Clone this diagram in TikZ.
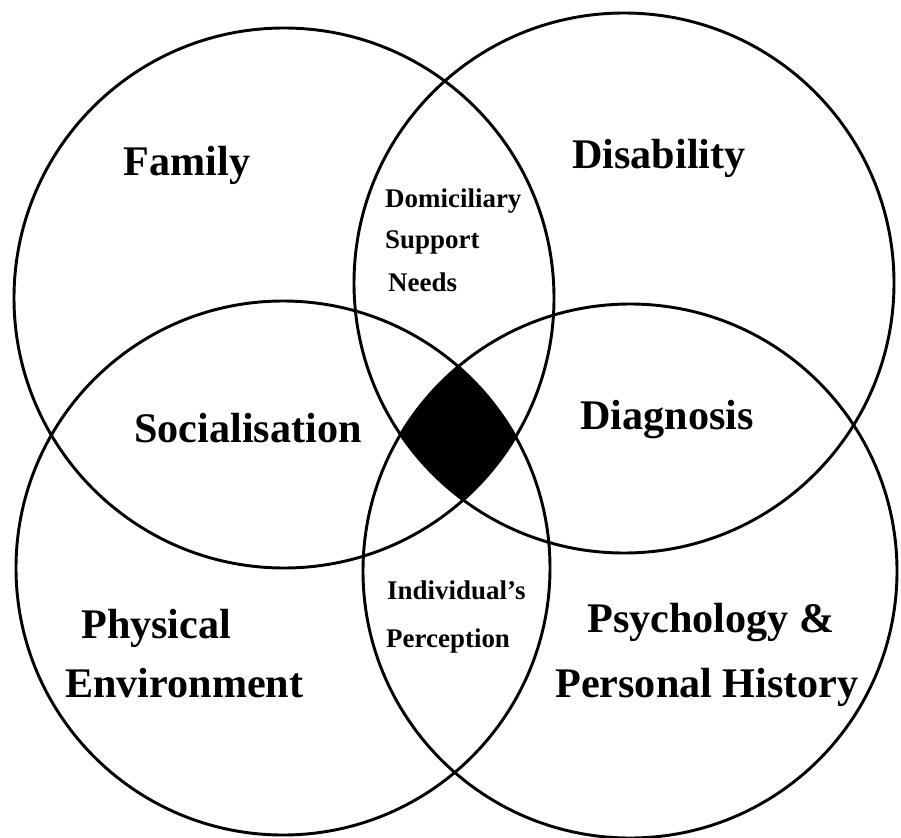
\documentclass[tikz,border=0pt]{standalone}
\usepackage{fontspec}
\setmainfont{Liberation Serif}

\tikzset{
  ring/.style={line width=2.5pt},
  big/.style={font=\bfseries\fontsize{36}{40}\selectfont, inner sep=0pt},
  small/.style={font=\bfseries\fontsize{23}{26}\selectfont, inner sep=0pt},
}

\begin{document}
  \begin{tikzpicture}[x=0.03cm, y=-0.03cm]
    \useasboundingbox (0, 0) rectangle (901, 837);

    % centres of the four circles
    \coordinate (fam) at (284, 298);
    \coordinate (dis) at (624, 283);
    \coordinate (phy) at (283, 568);
    \coordinate (psy) at (630, 571);

    % the part shared by all four
    \begin{scope}
      \clip (fam) circle (270);
      \clip (dis) circle (270);
      \clip (phy) circle (267);
      \fill (psy) circle (267);
    \end{scope}

    \draw[ring] (fam) circle (270);
    \draw[ring] (dis) circle (270);
    \draw[ring] (phy) circle (267);
    \draw[ring] (psy) circle (267);

    \node[big, anchor=base] (family) at (187, 175) {Family};
    \node[big, anchor=base] (disability) at (659, 168) {Disability};
    \node[big, anchor=base] (social) at (248, 442) {Socialisation};
    \node[big, anchor=base] (diag) at (667, 429) {Diagnosis};

    \node[small, anchor=base west] (dom) at (385, 207) {Domiciliary};
    \node[small, anchor=base west] (supp) at (385, 248) {Support};
    \node[small, anchor=base west] (needs) at (388, 291) {Needs};

    \node[small, anchor=base west] (indiv) at (387, 599) {Individual's};
    \node[small, anchor=base west] (perc) at (386, 647) {Perception};

    \node[big, anchor=base west] (physical) at (81, 638) {Physical};
    \node[big, anchor=base west] (environ) at (65, 697) {Environment};

    \node[big, anchor=base] (psych) at (711, 632) {Psychology \&};
    \node[big, anchor=base] (history) at (707, 697) {Personal History};
  \end{tikzpicture}
\end{document}
